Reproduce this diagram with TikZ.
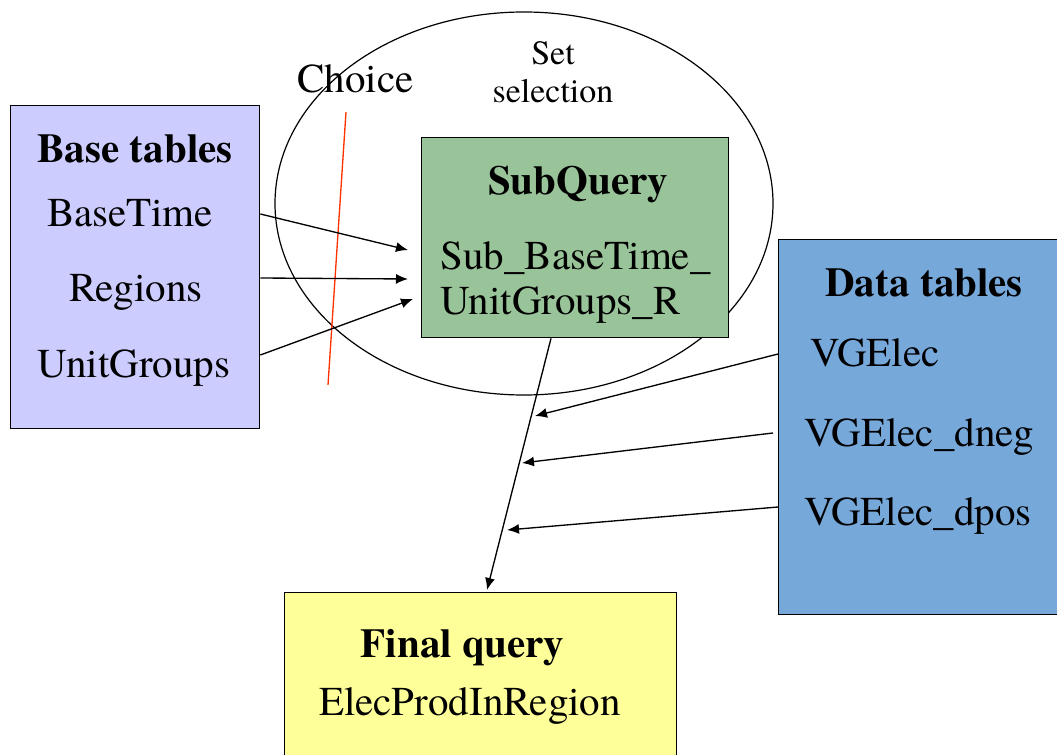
\documentclass[tikz,border=0pt]{standalone}
\usepackage{fontspec}
\setmainfont{texgyretermes}[Extension=.otf, UprightFont=*-regular, BoldFont=*-bold]
\usetikzlibrary{arrows.meta,
	calc,
	positioning,
	shapes.geometric}
\definecolor{baseblue}{RGB}{204,204,255}
\definecolor{subgreen}{RGB}{153,196,153}
\definecolor{datablue}{RGB}{119,168,218}
\definecolor{finalyellow}{RGB}{255,255,153}
\definecolor{choicered}{RGB}{255,51,0}
\tikzstyle{tbl}=[draw, line width=1pt, anchor=north west, inner sep=0]
\tikzstyle{txt}=[inner sep=0, anchor=base, font=\fontsize{30.75}{36}\selectfont]
\tikzstyle{hd}=[txt, font=\fontsize{30.75}{36}\selectfont\bfseries]
\tikzstyle{sm}=[txt, font=\fontsize{25.5}{30}\selectfont]
\tikzstyle{arr}=[-{Latex[length=9pt,width=7.5pt]}, line width=1pt]

\begin{document}
\begin{tikzpicture}[x=0.75pt, y=-0.75pt]
                \useasboundingbox (0,0) rectangle (1057,755);
                % set selection
                \node (sel) [draw, ellipse, line width=0.9pt, inner sep=0, minimum width=373.5pt, minimum height=287.25pt] at (524,203.5) {};
                \node (set) [sm] at (553,65) {Set};
                \node (selection) [sm] at (553,103) {selection};
                % boxes
                \node (base) [tbl, fill=baseblue, minimum width=186.75pt, minimum height=242.25pt] at (10,105) {};
                \node (sub) [tbl, fill=subgreen, minimum width=230.25pt, minimum height=150pt] at (421,137) {};
                \node (data) [tbl, fill=datablue, minimum width=219pt, minimum height=281.25pt] at (778,239) {};
                \node (final) [tbl, fill=finalyellow, minimum width=294pt, minimum height=133.5pt] at (284,592) {};
                % texts
                \node (basehd) [hd] at (135,163) {Base tables};
                \node (basetime) [txt] at (130,227) {BaseTime};
                \node (regions) [txt] at (136,302) {Regions};
                \node (unitgroups) [txt] at (134,378) {UnitGroups};
                \node (subhd) [hd] at (578,195) {SubQuery};
                \node (sub1) [txt] at (575.5,270) {Sub\_BaseTime\_};
                \node (sub2) [txt] at (560.5,315) {UnitGroups\_R};
                \node (datahd) [hd] at (924,297) {Data tables};
                \node (vgelec) [txt] at (875,367) {VGElec};
                \node (vgdneg) [txt] at (919.5,447) {VGElec\_dneg};
                \node (vgdpos) [txt] at (918,525) {VGElec\_dpos};
                \node (finalhd) [hd] at (462.5,657) {Final query};
                \node (elec) [txt] at (470,715) {ElecProdInRegion};
                \node (choice) [txt] at (355.5,93) {Choice};
                % choice cut
                \coordinate (cuttop) at (346,112);
                \coordinate (cutbot) at (328,385);
                \draw[choicered, line width=1pt] (cuttop) -- (cutbot);
                % base tables into subquery
                \draw[arr] ($(base.north east)+(0,109)$) -- ($(sub.north west)+(-13,113)$);
                \draw[arr] ($(base.north east)+(0,173)$) -- ($(sub.north west)+(-13,142)$);
                \draw[arr] ($(base.north east)+(0,250)$) -- ($(sub.north west)+(-8,162)$);
                % subquery to final query
                \coordinate (qs) at ($(sub.south west)+(130,0)$);
                \coordinate (qe) at ($(final.north west)+(203,-2)$);
                \draw[arr] (qs) -- (qe);
                % data tables onto the query line
                \coordinate (d1) at (535,416);
                \coordinate (d2) at (522,463);
                \coordinate (d3) at (507,530);
                \draw[arr] ($(data.north west)+(0,115)$) -- (d1);
                \draw[arr] ($(data.north west)+(-5,194)$) -- (d2);
                \draw[arr] ($(data.north west)+(0,268)$) -- (d3);
            \end{tikzpicture}
\end{document}
